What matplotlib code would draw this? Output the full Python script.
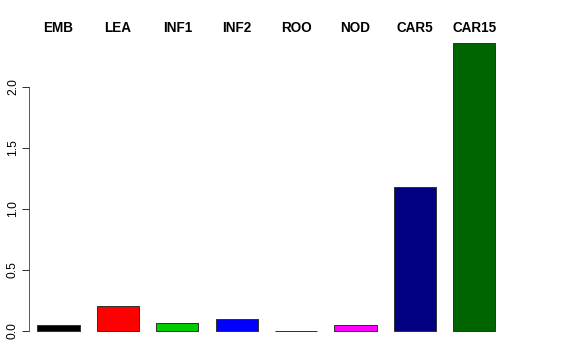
import matplotlib
matplotlib.use("Agg")
import matplotlib.pyplot as plt

# values
stages = ["EMB", "LEA", "INF1", "INF2", "ROO", "NOD", "CAR5", "CAR15"]
values = [0.05, 0.207, 0.063, 0.096, 0.002, 0.05, 1.18, 2.36]
colors = ["black", "red", "#00CD00", "blue", "cyan", "magenta", "#000080", "#006400"]
yticks = [0.0, 0.5, 1.0, 1.5, 2.0]

plt.rcParams["font.family"] = ["Liberation Sans", "DejaVu Sans"]

W, H = 576, 360
fig = plt.figure(figsize=(W / 72, H / 72), dpi=72, facecolor="white")

# plot region in pixels
left_px, right_px, top_px, bot_px = 29, 547, 40, 345
ax = fig.add_axes([left_px / W, 1 - bot_px / H,
                   (right_px - left_px) / W, (bot_px - top_px) / H])

pitch = 59.4   # px between bar centres
zero_px = 331
unit_y = 122   # px per 1.0 on y
ax.set_xlim((left_px - 58.5) / pitch, (right_px - 58.5) / pitch)
ax.set_ylim(-(bot_px - zero_px) / unit_y, (zero_px - top_px) / unit_y)

x = list(range(len(stages)))
ax.bar(x, values, width=0.71, color=colors, edgecolor="#333333", linewidth=1.0)

# R-style axis: only the left spine, spanning the tick range
for s in ["top", "right", "bottom"]:
    ax.spines[s].set_visible(False)
ax.spines["left"].set_bounds(0, 2.0)
ax.spines["left"].set_color("#333333")
ax.set_yticks(yticks)
ax.set_yticklabels([f"{t:.1f}" for t in yticks], rotation=90, va="center", fontsize=12)
ax.tick_params(axis="y", length=7, width=1, pad=3, color="#333333")
ax.set_xticks([])

for xi, name in zip(x, stages):
    ax.text(xi, 1 - (28 - top_px) / (bot_px - top_px), name, transform=ax.get_xaxis_transform(),
            ha="center", va="center", fontsize=13.5, fontweight="bold")

fig.savefig("out.png", dpi=72, facecolor="white")
